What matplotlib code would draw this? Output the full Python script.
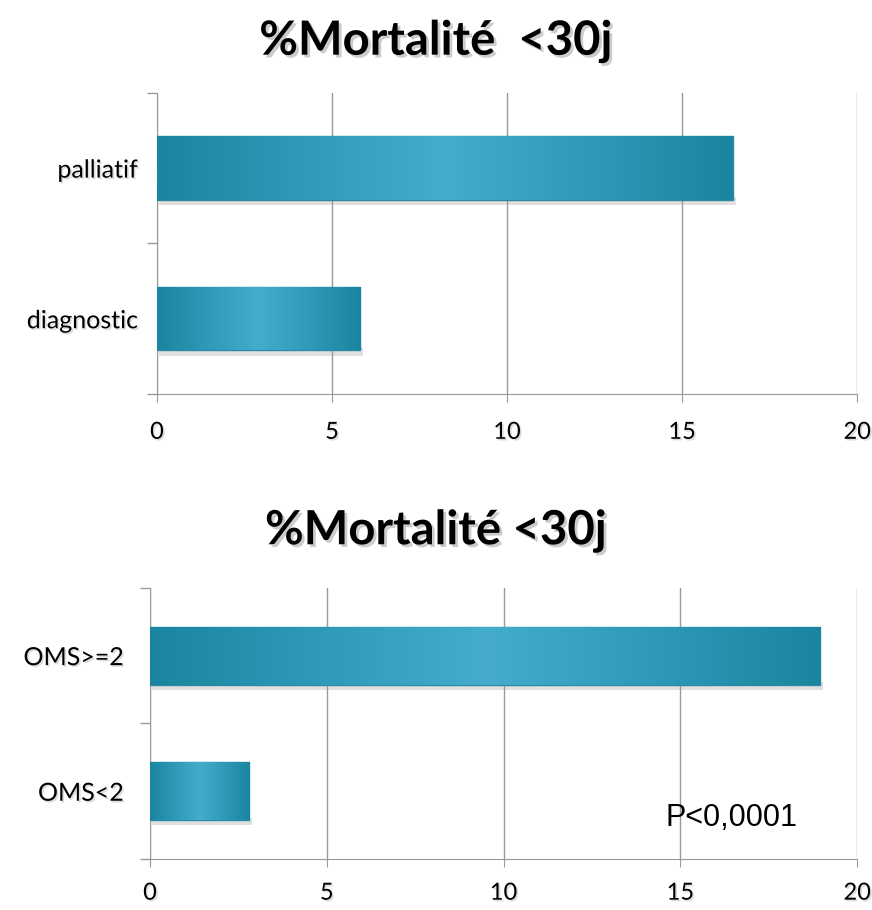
import numpy as np
import matplotlib
matplotlib.use("Agg")
import matplotlib.pyplot as plt
from matplotlib.colors import LinearSegmentedColormap
import matplotlib.patheffects as pe

# data
titles = ["%Mortalité  <30j", "%Mortalité <30j"]
cats_top = ["diagnostic", "palliatif"]
vals_top = [5.8, 16.45]
cats_bot = ["OMS<2", "OMS>=2"]
vals_bot = [2.8, 18.95]
xticks = [0, 5, 10, 15, 20]
p_text = "P<0,0001"

plt.rcParams['font.family'] = ['Lato', 'DejaVu Sans']

grad = LinearSegmentedColormap.from_list("g", ["#1a85a0", "#2e9ab8", "#45accb", "#2e9ab8", "#1a85a0"])
shadow = [pe.SimplePatchShadow(offset=(1.2, -1.2), shadow_rgbFace="#bbbbbb", alpha=0.5), pe.Normal()]


def draw(ax, cats, vals, height, xpad, ypad):
    bars = ax.barh(range(len(cats)), vals, height=height, color="#2a97b4", zorder=3)
    g = np.linspace(0, 1, 256).reshape(1, -1)
    for b in bars:
        x0, y0 = b.get_x(), b.get_y()
        w, h = b.get_width(), b.get_height()
        # soft shadow under bar
        ax.fill_between([x0 + 0.05, x0 + w + 0.08], y0 - 0.035, y0 + 0.02,
                        color="#999999", alpha=0.3, lw=0, zorder=2)
        im = ax.imshow(g, cmap=grad, aspect="auto", extent=(x0, x0 + w, y0, y0 + h),
                       zorder=4, interpolation="bilinear")
        im.set_clip_path(b)
        b.set_edgecolor("#2b8aa2")
        b.set_linewidth(1.0)
    ax.set_xlim(0, 20)
    ax.set_ylim(-0.5, 1.5)
    ax.set_xticks(xticks)
    ax.set_xticklabels([str(t) for t in xticks], fontsize=17, path_effects=shadow)
    ax.set_yticks([0, 1])
    ax.set_yticklabels(cats, fontsize=18, path_effects=shadow)
    ax.set_yticks([-0.5, 0.5, 1.5], minor=True)
    ax.tick_params(axis="y", which="major", length=0, pad=ypad)
    ax.tick_params(axis="y", which="minor", length=7, color="#999999", width=1)
    ax.tick_params(axis="x", length=6, pad=xpad, color="#999999", direction="out")
    ax.grid(axis="x", color="#999999", lw=1, zorder=0)
    for s in ("top", "right"):
        ax.spines[s].set_visible(False)
    ax.spines["left"].set_color("#999999")
    ax.spines["bottom"].set_color("#999999")


fig = plt.figure(figsize=(8.72, 9.1), dpi=100)
ax1 = fig.add_axes([0.180, 0.567, 0.803, 0.331])
ax2 = fig.add_axes([0.172, 0.056, 0.811, 0.298])

draw(ax1, cats_top, vals_top, 0.42, 14, 14)
draw(ax2, cats_bot, vals_bot, 0.43, 11, 19)

tshadow = [pe.SimplePatchShadow(offset=(2, -2), shadow_rgbFace="#aaaaaa", alpha=0.6), pe.Normal()]
fig.text(0.5, 0.955, titles[0], ha="center", va="center", fontsize=34, fontweight="bold", path_effects=tshadow)
fig.text(0.5, 0.417, titles[1], ha="center", va="center", fontsize=34, fontweight="bold", path_effects=tshadow)

ax2.text(14.57, -0.2, p_text, fontsize=22, family="Liberation Sans", va="center", ha="left", zorder=6)

fig.savefig("out.png", dpi=100)
